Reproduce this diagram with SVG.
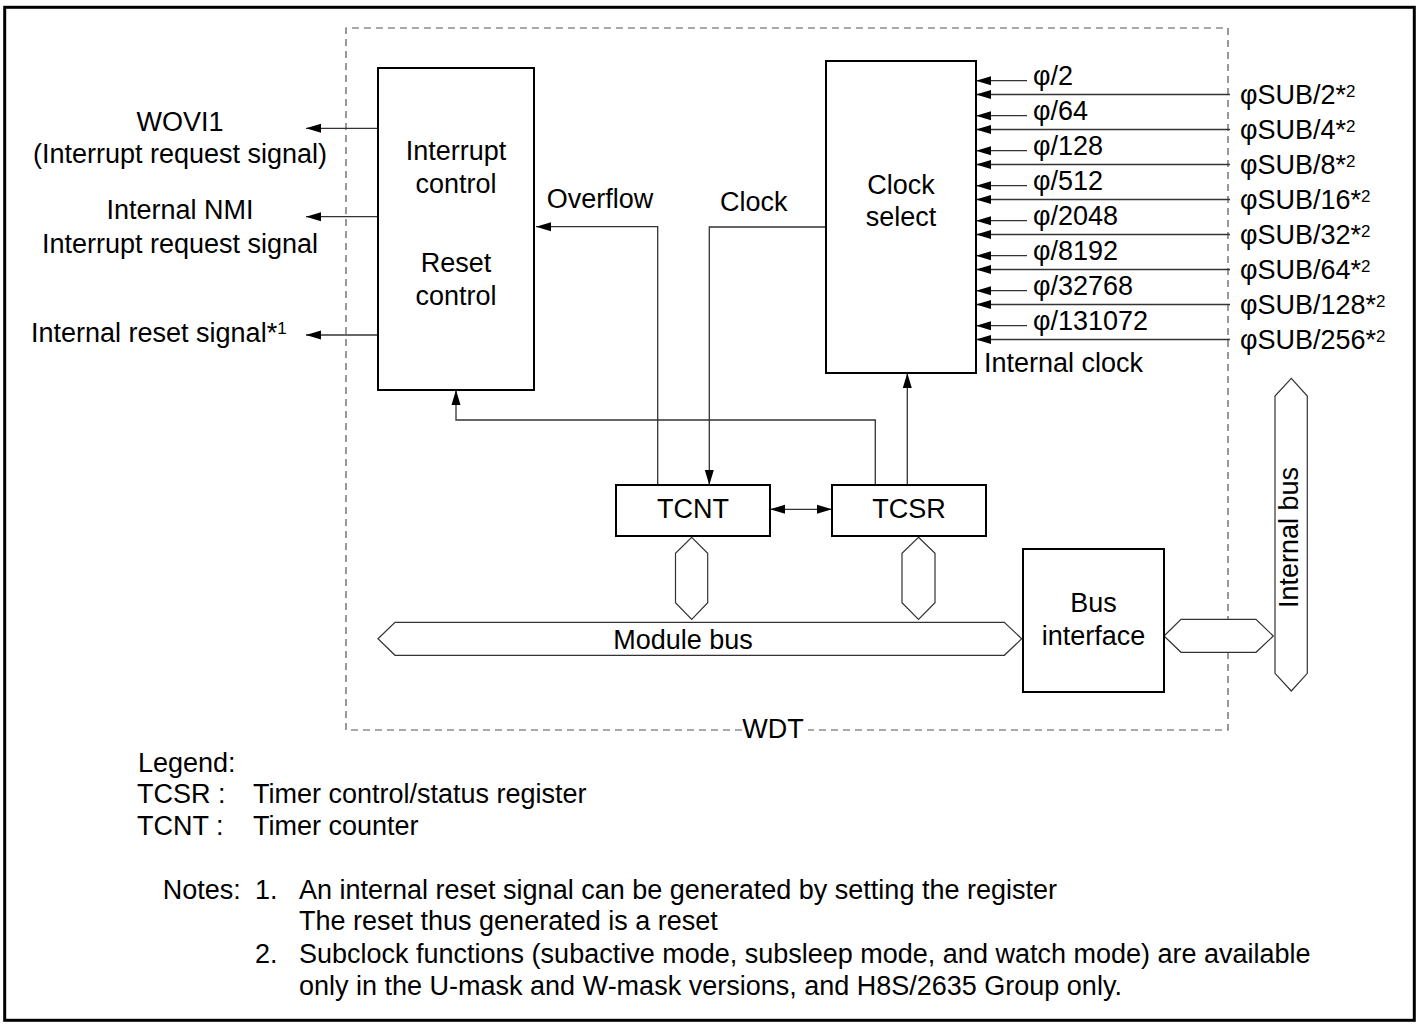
<svg xmlns="http://www.w3.org/2000/svg" width="1421" height="1024" viewBox="0 0 1421 1024">
<defs>
<marker id="ah" markerUnits="userSpaceOnUse" orient="auto-start-reverse" markerWidth="15" markerHeight="10" refX="15" refY="5" viewBox="0 0 15 10"><path d="M0,0.5 L15,5 L0,9.5 z" fill="#000"/></marker>
</defs>
<style>
text{font-family:"Liberation Sans",Arial,Helvetica,sans-serif;font-size:27px;fill:#000}
.sup{font-size:17px}
.box{fill:#fff;stroke:#000;stroke-width:2}
.arr{fill:none;stroke:#333;stroke-width:1.3;marker-end:url(#ah)}
.hex{fill:#fff;stroke:#333;stroke-width:1.2}
.mid{text-anchor:middle}
</style>
<rect x="0" y="0" width="1421" height="1024" fill="#fff"/>
<rect x="4.7" y="7.3" width="1409.6" height="1013" fill="none" stroke="#000" stroke-width="3"/>

<g id="wdt">
<path d="M742,730 H346 V28 H1228 V730 H808" fill="none" stroke="#555" stroke-width="1.2" stroke-dasharray="7,5"/>
<text x="773" y="738" class="mid">WDT</text>
</g>

<g id="connectors">
<line class="arr" x1="378" y1="128.3" x2="306" y2="128.3"/>
<line class="arr" x1="378" y1="216.7" x2="306" y2="216.7"/>
<line class="arr" x1="378" y1="335" x2="306" y2="335"/>
<polyline class="arr" points="657.7,485 657.7,226.7 536,226.7"/>
<polyline class="arr" points="826,227 709.3,227 709.3,485"/>
<polyline class="arr" points="875.3,485 875.3,420 456,420 456,390"/>
<line class="arr" x1="907.3" y1="485" x2="907.3" y2="373"/>
<line class="arr" x1="770" y1="509.3" x2="832" y2="509.3" style="marker-start:url(#ah)"/>
<g id="clock-inputs">
<line class="arr" x1="1027" y1="80.7" x2="976" y2="80.7"/>
<line class="arr" x1="1230" y1="94.5" x2="976" y2="94.5"/>
<line class="arr" x1="1027" y1="115.7" x2="976" y2="115.7"/>
<line class="arr" x1="1230" y1="129.5" x2="976" y2="129.5"/>
<line class="arr" x1="1027" y1="150.7" x2="976" y2="150.7"/>
<line class="arr" x1="1230" y1="164.5" x2="976" y2="164.5"/>
<line class="arr" x1="1027" y1="185.7" x2="976" y2="185.7"/>
<line class="arr" x1="1230" y1="199.5" x2="976" y2="199.5"/>
<line class="arr" x1="1027" y1="220.7" x2="976" y2="220.7"/>
<line class="arr" x1="1230" y1="234.5" x2="976" y2="234.5"/>
<line class="arr" x1="1027" y1="255.7" x2="976" y2="255.7"/>
<line class="arr" x1="1230" y1="269.5" x2="976" y2="269.5"/>
<line class="arr" x1="1027" y1="290.7" x2="976" y2="290.7"/>
<line class="arr" x1="1230" y1="304.5" x2="976" y2="304.5"/>
<line class="arr" x1="1027" y1="325.7" x2="976" y2="325.7"/>
<line class="arr" x1="1230" y1="339.5" x2="976" y2="339.5"/>
</g>
</g>

<g id="buses">
<polygon class="hex" points="378,638.8 395,622.3 1004.3,622.3 1021.7,638.8 1004.3,655.3 395,655.3"/>
<polygon class="hex" points="691.7,537.3 707.7,553.3 707.7,602.7 691.7,619.3 675.5,602.7 675.5,553.3"/>
<polygon class="hex" points="918.5,537.3 935,553.3 935,602.7 918.5,619.3 902,602.7 902,553.3"/>
<polygon class="hex" points="1164,636 1181,619.3 1256,619.3 1273.3,636 1256,652.3 1181,652.3"/>
<polygon class="hex" points="1291.3,378.3 1307.3,396 1307.3,673.3 1291.3,691 1275,673.3 1275,396"/>
<text x="683" y="649.3" class="mid">Module bus</text>
<text transform="translate(1298,537.5) rotate(-90)" class="mid">Internal bus</text>
</g>

<g id="int-reset-control">
<rect class="box" x="378" y="68" width="156" height="322"/>
<text x="456" y="160" class="mid">Interrupt</text>
<text x="456" y="192.7" class="mid">control</text>
<text x="456" y="271.7" class="mid">Reset</text>
<text x="456" y="305" class="mid">control</text>
</g>

<g id="clock-select">
<rect class="box" x="826" y="61" width="150" height="312"/>
<text x="901" y="194" class="mid">Clock</text>
<text x="901" y="226" class="mid">select</text>
</g>

<g id="tcnt">
<rect class="box" x="616" y="485" width="154" height="51"/>
<text x="693" y="518.3" class="mid">TCNT</text>
</g>

<g id="tcsr">
<rect class="box" x="832" y="485" width="154" height="51"/>
<text x="909" y="518.3" class="mid">TCSR</text>
</g>

<g id="bus-interface">
<rect class="box" x="1023" y="549" width="141" height="143"/>
<text x="1093.5" y="612.3" class="mid">Bus</text>
<text x="1093.5" y="645" class="mid">interface</text>
</g>

<g id="labels">
<text x="180" y="131" class="mid">WOVI1</text>
<text x="180" y="162.7" class="mid">(Interrupt request signal)</text>
<text x="180" y="219.3" class="mid">Internal NMI</text>
<text x="180" y="252.7" class="mid">Interrupt request signal</text>
<text x="31" y="341.7">Internal reset signal*<tspan class="sup" dy="-8">1</tspan></text>
<text x="546.7" y="208.3">Overflow</text>
<text x="720" y="210.7">Clock</text>
<text x="984" y="371.7">Internal clock</text>
<text x="1033" y="85">φ/2</text>
<text x="1033" y="120">φ/64</text>
<text x="1033" y="155">φ/128</text>
<text x="1033" y="190">φ/512</text>
<text x="1033" y="225">φ/2048</text>
<text x="1033" y="260">φ/8192</text>
<text x="1033" y="295">φ/32768</text>
<text x="1033" y="330">φ/131072</text>
<text x="1240" y="104">φSUB/2*<tspan class="sup" dy="-7">2</tspan></text>
<text x="1240" y="139">φSUB/4*<tspan class="sup" dy="-7">2</tspan></text>
<text x="1240" y="174">φSUB/8*<tspan class="sup" dy="-7">2</tspan></text>
<text x="1240" y="209">φSUB/16*<tspan class="sup" dy="-7">2</tspan></text>
<text x="1240" y="244">φSUB/32*<tspan class="sup" dy="-7">2</tspan></text>
<text x="1240" y="279">φSUB/64*<tspan class="sup" dy="-7">2</tspan></text>
<text x="1240" y="314">φSUB/128*<tspan class="sup" dy="-7">2</tspan></text>
<text x="1240" y="349">φSUB/256*<tspan class="sup" dy="-7">2</tspan></text>
</g>

<g id="legend">
<text x="138" y="772.3">Legend:</text>
<text x="137" y="803.3">TCSR :</text>
<text x="253" y="803.3">Timer control/status register</text>
<text x="137" y="835">TCNT :</text>
<text x="253" y="835">Timer counter</text>
<text x="162.7" y="899.3">Notes:</text>
<text x="255" y="899.3">1.</text>
<text x="299" y="899.3">An internal reset signal can be generated by setting the register</text>
<text x="299" y="930">The reset thus generated is a reset</text>
<text x="255" y="963">2.</text>
<text x="299" y="963">Subclock functions (subactive mode, subsleep mode, and watch mode) are available</text>
<text x="299" y="995">only in the U-mask and W-mask versions, and H8S/2635 Group only.</text>
</g>
</svg>
